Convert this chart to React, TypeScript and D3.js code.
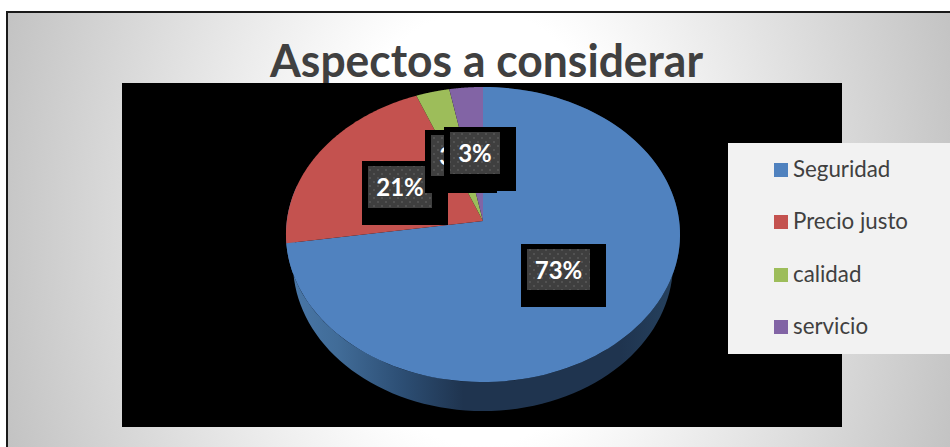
import React from "react";
import * as d3 from "d3";

const categories = ["Seguridad", "Precio justo", "calidad", "servicio"];
const values = [72.6, 21.4, 3, 3];
const labels = ["73%", "21%", "3%", "3%"];
const colors = ["#5082bf", "#c4524f", "#9dbd5a", "#8264a5"];

const W = 950;
const H = 447;
const apex = { x: 483, y: 221 };
const radiusX = 196.2;
const radiusY = 146.3;
const tilt = 0.0915;
const depth = 29;
const lowerScale = 0.9645;
const wallOverrun = 0.4;

// Rim point of the tilted disc for a pie angle (clockwise from the top)
const project = (angle: number, r = 1) => {
  const u = r * Math.sin(angle);
  const v = r * Math.cos(angle);
  const den = 1 + tilt * v;
  return [apex.x + (radiusX * u) / den, apex.y - (radiusY * v) / den] as [number, number];
};

const rimPoints = (a0: number, a1: number) =>
  d3.range(0, 121).map((i) => project(a0 + ((a1 - a0) * i) / 120));

const line = d3.line();
const arcs = d3.pie<number>().sort(null).startAngle(0).endAngle(2 * Math.PI)(values);

// Order in which the labels are stacked, back to front
const labelBoxes = [
  { i: 0, x: 527, y: 249, w: 63, h: 41 },
  { i: 1, x: 368, y: 166, w: 64, h: 42 },
  { i: 2, x: 431, y: 135, w: 50, h: 41 },
  { i: 3, x: 450, y: 132, w: 50, h: 42 },
];
const legendY = [170, 222, 275, 327];

export default function App() {
  const front = arcs[0];
  const rim = rimPoints(front.startAngle, front.endAngle + wallOverrun);
  const lower = rim
    .map(([x, y]) => [apex.x + (x - apex.x) * lowerScale, y + depth] as [number, number])
    .reverse();
  return (
    <svg
      width={W}
      height={H}
      viewBox={`0 0 ${W} ${H}`}
      style={{ position: "absolute", left: 0, top: 0, display: "block" }}
    >
      <defs>
        <radialGradient id="bg" gradientUnits="userSpaceOnUse" cx={480} cy={228} r={500}
          gradientTransform="translate(480 228) scale(1 1.45) translate(-480 -228)">
          <stop offset="0.3" stopColor="#ffffff" />
          <stop offset="1" stopColor="#c2c2c2" />
        </radialGradient>
        <linearGradient id="wall" gradientUnits="userSpaceOnUse" x1={286} x2={680} y1={0} y2={0}>
          <stop offset="0" stopColor="#4a78a9" />
          <stop offset="0.13" stopColor="#416c98" />
          <stop offset="0.29" stopColor="#2d4f75" />
          <stop offset="0.45" stopColor="#1f344f" />
          <stop offset="0.85" stopColor="#1f344f" />
          <stop offset="1" stopColor="#26425f" />
        </linearGradient>
        <pattern id="dots" width={8} height={8} patternUnits="userSpaceOnUse">
          <rect width={8} height={8} fill="#3f3f3f" />
          <rect x={1} y={1} width={2} height={2} fill="#525252" />
          <rect x={5} y={5} width={2} height={2} fill="#525252" />
        </pattern>
      </defs>
      <rect width={W} height={H} fill="#ffffff" />
      <rect x={7} y={12} width={W + 10} height={H + 10} fill="url(#bg)" stroke="#1a1a1a" strokeWidth={2} />
      <text x={270} y={77} fontFamily="Lato" fontWeight={700} fontSize={46} fill="#404040"
        textLength={433} lengthAdjust="spacingAndGlyphs">
        Aspectos a considerar
      </text>
      <rect x={122} y={83} width={720} height={344} fill="#000000" />
      <path d={line([...rim, ...lower]) + "Z"} fill="url(#wall)" />
      {arcs.map((a, i) => (
        <path
          key={categories[i]}
          d={line([[apex.x, apex.y], ...rimPoints(a.startAngle, a.endAngle)]) + "Z"}
          fill={colors[i]}
        />
      ))}
      {labelBoxes.map((b) => (
        <g key={b.i}>
          <rect x={b.x - 6} y={b.y - 5} width={b.w + 22} height={b.h + 22} fill="#000000" />
          <rect x={b.x} y={b.y} width={b.w} height={b.h} fill="url(#dots)" />
          <text x={b.x + b.w / 2} y={b.y + 30} textAnchor="middle" fontFamily="Lato" fontWeight={700}
            fontSize={24} fill="#ffffff">
            {labels[b.i]}
          </text>
        </g>
      ))}
      <rect x={728} y={143} width={222} height={211} fill="#f2f2f2" />
      {categories.map((c, i) => (
        <g key={c}>
          <rect x={774} y={legendY[i] - 7} width={14} height={14} fill={colors[i]} />
          <text x={793} y={legendY[i] + 7} fontFamily="Lato" fontSize={22.3} fill="#404040">
            {c}
          </text>
        </g>
      ))}
    </svg>
  );
}
